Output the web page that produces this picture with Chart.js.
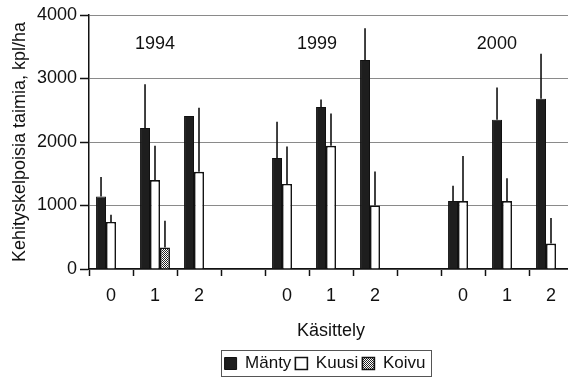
<!DOCTYPE html>
<html>
<head>
<meta charset="utf-8">
<script src="https://cdn.jsdelivr.net/npm/chart.js@4.4.1/dist/chart.umd.min.js"></script>
<style>
  html, body { margin: 0; padding: 0; background: #fff; overflow: hidden; }
  #wrap { width: 576px; height: 378px; }
</style>
</head>
<body>
<div id="wrap"><canvas id="taimiChart"></canvas></div>
<script>
// Käsittelyt (tyhjä = väli vuosien välillä)
const kasittely = ['0', '1', '2', '', '0', '1', '2', '', '0', '1', '2'];
const vuodet = ['1994', '1999', '2000'];

// Keskiarvot, kpl/ha
const manty = [1140, 2220, 2410, null, 1750, 2550, 3290, null, 1070, 2350, 2680];
const kuusi = [740, 1400, 1530, null, 1340, 1940, 1000, null, 1070, 1070, 400];
const koivu = [null, 340, null, null, null, null, null, null, null, null, null];

// Keskihajonnat (viiva ylöspäin pylvään päältä)
const mantyHajonta = [310, 690, null, null, 570, 120, 500, null, 240, 510, 710];
const kuusiHajonta = [115, 540, 1010, null, 590, 510, 535, null, 710, 360, 405];
const koivuHajonta = [null, 420, null, null, null, null, null, null, null, null, null];

const yTicks = [0, 1000, 2000, 3000, 4000];

const fontFamily = '"Liberation Sans", Arial, sans-serif';

// Ruudukkokuvio koivulle
function koivuPattern() {
    const c = document.createElement('canvas');
    c.width = 2;
    c.height = 2;
    const g = c.getContext('2d');
    g.fillStyle = '#ffffff';
    g.fillRect(0, 0, 2, 2);
    g.fillStyle = '#222222';
    g.fillRect(0, 0, 1, 1);
    g.fillRect(1, 1, 1, 1);
    return g.createPattern(c, 'repeat');
}

// Hajontaviivat
const errorBars = {
    id: 'errorBars',
    afterDatasetsDraw(chart) {
        const ctx = chart.ctx;
        const y = chart.scales.y;
        ctx.save();
        ctx.strokeStyle = '#111';
        ctx.lineWidth = 1.6;
        chart.data.datasets.forEach((ds, i) => {
            const meta = chart.getDatasetMeta(i);
            meta.data.forEach((bar, j) => {
                const v = ds.data[j];
                const e = ds.hajonta[j];
                if (v == null || e == null) return;
                ctx.beginPath();
                ctx.moveTo(bar.x, bar.y);
                ctx.lineTo(bar.x, y.getPixelForValue(v + e));
                ctx.stroke();
            });
        });
        ctx.restore();
    }
};

// Vuosiotsikot ja selitteen kehys
const extras = {
    id: 'extras',
    afterLayout(chart) {
        // selite hieman vasemmalle kuten alkuperäisessä
        chart.legend.left -= 6;
        chart.legend.right -= 6;
    },
    afterDraw(chart) {
        const ctx = chart.ctx;
        const x = chart.scales.x;
        const y = chart.scales.y;
        const step = x.getPixelForValue(1) - x.getPixelForValue(0);
        const at = [1, 4.68, 8.77];
        ctx.save();
        ctx.fillStyle = '#111';
        ctx.font = '18px ' + fontFamily;
        ctx.textAlign = 'center';
        ctx.textBaseline = 'middle';
        vuodet.forEach((t, i) => {
            ctx.fillText(t, x.getPixelForValue(0) + at[i] * step, y.getPixelForValue(3540));
        });

        const hb = chart.legend.legendHitBoxes;
        if (hb && hb.length) {
            const first = hb[0];
            const last = hb[hb.length - 1];
            const left = first.left - 4;
            const right = last.left + last.width + 5;
            ctx.strokeStyle = '#555';
            ctx.lineWidth = 1;
            ctx.strokeRect(Math.round(left) + 0.5, Math.round(first.top - 5) + 0.5,
                Math.round(right - left), Math.round(first.height + 9));
        }
        ctx.restore();
    }
};

const ctx = document.getElementById('taimiChart').getContext('2d');
new Chart(ctx, {
    type: 'bar',
    data: {
        labels: kasittely,
        datasets: [{
            label: 'Mänty',
            data: manty,
            hajonta: mantyHajonta,
            backgroundColor: '#1e1e1e',
            borderColor: '#111',
            borderWidth: 1
        }, {
            label: 'Kuusi',
            data: kuusi,
            hajonta: kuusiHajonta,
            backgroundColor: '#ffffff',
            borderColor: '#111',
            borderWidth: 1.6
        }, {
            label: 'Koivu',
            data: koivu,
            hajonta: koivuHajonta,
            backgroundColor: koivuPattern(),
            borderColor: '#111',
            borderWidth: 1.6
        }]
    },
    options: {
        responsive: true,
        maintainAspectRatio: false,
        animation: false,
        categoryPercentage: 0.68,
        barPercentage: 1.0,
        layout: {
            padding: { left: 0, right: 3, top: 15, bottom: -4 }
        },
        plugins: {
            legend: {
                position: 'bottom',
                fullSize: false,
                labels: {
                    color: '#111',
                    font: { family: fontFamily, size: 17 },
                    boxWidth: 12,
                    boxHeight: 12,
                    padding: 4
                }
            },
            tooltip: { enabled: false }
        },
        scales: {
            x: {
                afterFit(scale) {
                    scale.height = 82;
                },
                grid: {
                    display: true,
                    drawOnChartArea: false,
                    offset: true,
                    tickLength: 7,
                    tickColor: '#111',
                    tickWidth: 1.5
                },
                border: { color: '#111', width: 1.5 },
                ticks: {
                    color: '#111',
                    font: { family: fontFamily, size: 18 },
                    padding: 9,
                    maxRotation: 0,
                    autoSkip: false
                },
                title: {
                    display: true,
                    text: 'Käsittely',
                    color: '#111',
                    font: { family: fontFamily, size: 18 },
                    padding: { top: 4, bottom: 9 }
                }
            },
            y: {
                min: 0,
                max: 4000,
                afterBuildTicks(scale) {
                    scale.ticks = yTicks.map(v => ({ value: v }));
                },
                afterFit(scale) {
                    scale.width = 89;
                },
                grid: {
                    color: '#8a8a8a',
                    lineWidth: 1,
                    tickLength: 9,
                    tickColor: '#111',
                    tickWidth: 1.5
                },
                border: { color: '#111', width: 1.5 },
                ticks: {
                    color: '#111',
                    font: { family: fontFamily, size: 18 },
                    padding: 3,
                    callback: v => String(v)
                },
                title: {
                    display: true,
                    text: 'Kehityskelpoisia taimia, kpl/ha',
                    color: '#111',
                    font: { family: fontFamily, size: 18 },
                    padding: { top: 9, bottom: 0 }
                }
            }
        }
    },
    plugins: [errorBars, extras]
});
</script>
</body>
</html>
